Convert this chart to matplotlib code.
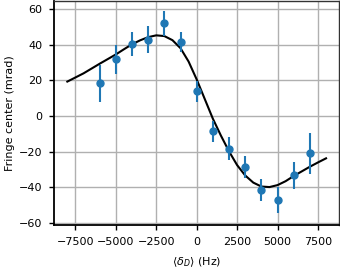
import numpy as np
import matplotlib
matplotlib.use("Agg")
import matplotlib.pyplot as plt

# measured points
det_hz = [-6000, -5000, -4000, -3000, -2000, -1000, 0, 1000, 2000, 3000, 4000, 5000, 6000, 7000]
fringe = [18.3, 31.7, 40.3, 42.8, 52.0, 41.3, 13.8, -8.6, -18.2, -28.6, -41.3, -47.1, -33.2, -20.9]
fringe_err = [10.5, 8.3, 6.5, 7.6, 7.0, 5.6, 5.8, 5.8, 6.2, 6.2, 6.2, 7.2, 7.5, 11.4]

# fitted curve
fit_hz = [-8000, -7500, -7000, -6500, -6000, -5500, -5000, -4500, -4000, -3500,
          -3000, -2500, -2000, -1500, -1000, -500, 0, 500, 1000, 1500, 2000,
          2500, 3000, 3500, 4000, 4500, 5000, 5500, 6000, 6500, 7000, 7500, 8000]
fit_val = [19.3, 21.6, 23.9, 26.6, 29.3, 31.9, 34.5, 37.4, 40.2, 42.4,
           44.2, 45.2, 44.8, 42.5, 38.0, 30.5, 20.5, 9.5, -1.5, -11.0, -19.8,
           -27.5, -33.3, -37.3, -39.5, -39.8, -38.7, -36.5, -33.6, -31.0, -28.4, -26.0, -23.7]

xticks = [-7500, -5000, -2500, 0, 2500, 5000, 7500]
yticks = [-60, -40, -20, 0, 20, 40, 60]

fig = plt.figure(figsize=(3.4, 2.7), dpi=100)
ax = fig.add_axes([0.16, 0.167, 0.837, 0.831])

ax.plot(fit_hz, fit_val, color="black", lw=1.5, zorder=3)
ax.errorbar(det_hz, fringe, yerr=fringe_err, fmt="o", color="#1f77b4",
            markersize=5, elinewidth=1.5, capsize=0, zorder=4)

ax.set_xlim(-8800, 8800)
ax.set_ylim(-61, 64.7)
ax.set_xticks(xticks)
ax.set_yticks(yticks)
ax.grid(True, color="#b0b0b0", lw=1)
ax.set_axisbelow(True)
ax.tick_params(labelsize=8, length=3.5, width=1, pad=5)
ax.set_xlabel(r"$\langle\delta_D\rangle$ (Hz)", fontsize=8, labelpad=6)
ax.set_ylabel("Fringe center (mrad)", fontsize=8, labelpad=3)
for side in ["left", "bottom"]:
    ax.spines[side].set_linewidth(1.3)
    ax.spines[side].set_color("black")
for side in ["top", "right"]:
    ax.spines[side].set_linewidth(1.0)
    ax.spines[side].set_color("#333333")

fig.savefig("out.png", dpi=100)
